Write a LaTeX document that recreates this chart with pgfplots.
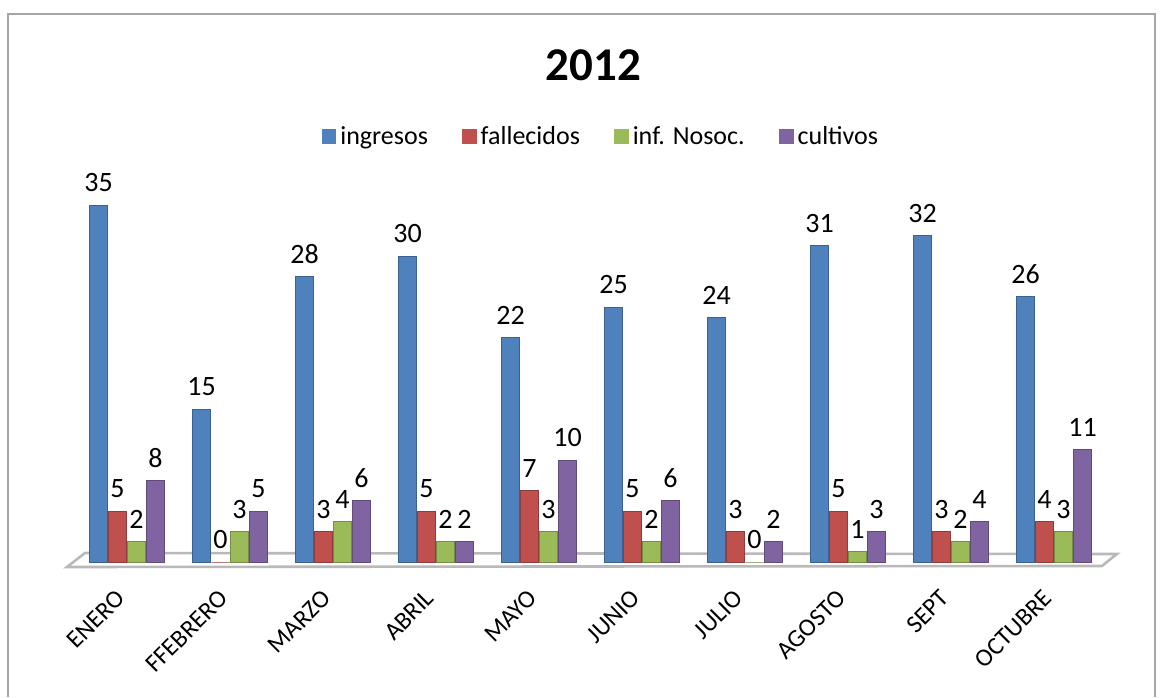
\documentclass[border=0pt]{standalone}
\usepackage{pgfplots}
\pgfplotsset{compat=1.18}
\usepackage{fontspec}
\setmainfont{Carlito}
\definecolor{cBlue}{HTML}{4F81BD}
\definecolor{cRed}{HTML}{C0504D}
\definecolor{cGreen}{HTML}{9BBB59}
\definecolor{cPurple}{HTML}{8064A2}
\begin{document}
\begin{tikzpicture}
\path[use as bounding box] (0,0) rectangle (581.5pt,348.5pt);
\draw[gray!70, line width=0.8pt] (4pt,0) -- (4pt,341.5pt) -- (577.5pt,341.5pt) -- (577.5pt,0);
\begin{axis}[
  at={(37.75pt,67.5pt)}, anchor=south west,
  scale only axis, width=515pt, height=204pt,
  xmin=-0.5, xmax=9.5, ymin=0, ymax=40,
  clip=false,
  axis line style={draw=none},
  ytick=\empty,
  xtick=data,
  xticklabels={ENERO,FFEBRERO,MARZO,ABRIL,MAYO,JUNIO,JULIO,AGOSTO,SEPT,OCTUBRE},
  major tick length=0pt,
  xticklabel style={font=\fontsize{12.5}{14}\selectfont, xshift=-6pt, yshift=-13pt, rotate=45, anchor=north east, inner sep=0pt},
  ybar=0.5pt, bar width=9pt,
  /pgf/number format/assume math mode=true,
  nodes near coords,
  every node near coord/.append style={font=\fontsize{14}{16}\selectfont, black, yshift=3pt},
  legend columns=4,
  legend style={at={(0.511,1.042)}, anchor=center, draw=none, fill=none,
    font=\fontsize{13}{15}\selectfont,
    /tikz/every even column/.append style={column sep=15pt}},
  legend image code/.code={\fill[#1, draw=none] (0pt,-3.7pt) rectangle (7.4pt,3.7pt);},
]
\draw[gray!55, line width=1.3pt, fill=white] (axis cs:-0.583,-0.49) -- (axis cs:9.466,-0.39) -- (axis cs:9.61,0.78) -- (axis cs:-0.408,0.88) -- cycle;
\addplot[draw=cBlue!75!black, line width=0.4pt, fill=cBlue] coordinates {(0,35) (1,15) (2,28) (3,30) (4,22) (5,25) (6,24) (7,31) (8,32) (9,26)};
\addplot[draw=cRed!75!black, line width=0.4pt, fill=cRed] coordinates {(0,5) (1,0) (2,3) (3,5) (4,7) (5,5) (6,3) (7,5) (8,3) (9,4)};
\addplot[draw=cGreen!75!black, line width=0.4pt, fill=cGreen] coordinates {(0,2) (1,3) (2,4) (3,2) (4,3) (5,2) (6,0) (7,1) (8,2) (9,3)};
\addplot[draw=cPurple!75!black, line width=0.4pt, fill=cPurple] coordinates {(0,8) (1,5) (2,6) (3,2) (4,10) (5,6) (6,2) (7,3) (8,4) (9,11)};
\legend{ingresos,fallecidos,inf. Nosoc.,cultivos}
\node[font=\bfseries\fontsize{23.5}{28}\selectfont] at (axis description cs:0.503,1.218) {2012};
\end{axis}
\end{tikzpicture}
\end{document}
